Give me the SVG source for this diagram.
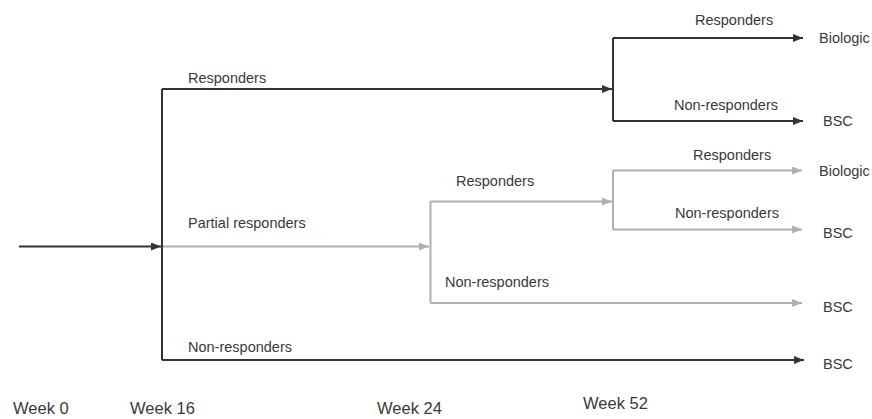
<svg xmlns="http://www.w3.org/2000/svg" width="872" height="419" viewBox="0 0 872 419">
<defs>
<marker id="ab" viewBox="0 0 10 8" refX="10" refY="4" markerWidth="10" markerHeight="8" markerUnits="userSpaceOnUse" orient="auto"><path d="M0,0 L10,4 L0,8 z" fill="#333"/></marker>
<marker id="ag" viewBox="0 0 10 8" refX="10" refY="4" markerWidth="10" markerHeight="8" markerUnits="userSpaceOnUse" orient="auto"><path d="M0,0 L10,4 L0,8 z" fill="#b0b0b0"/></marker>
</defs>
<style>
.b{fill:none;stroke:#333;stroke-width:2}
.g{fill:none;stroke:#b0b0b0;stroke-width:2}
text{font-family:"Liberation Sans",Arial,sans-serif;font-size:14.5px;fill:#3a3a3a}
.w{font-size:16.5px}
</style>
<rect width="872" height="419" fill="#fff"/>
<g id="connectors">
<path class="b" d="M19,246.5 H161" marker-end="url(#ab)"/>
<path class="b" d="M162,89 V360"/>
<path class="b" d="M162,89 H612" marker-end="url(#ab)"/>
<path class="b" d="M162,360 H804" marker-end="url(#ab)"/>
<path class="b" d="M613,38 V121"/>
<path class="b" d="M613,38 H803" marker-end="url(#ab)"/>
<path class="b" d="M613,121 H803" marker-end="url(#ab)"/>
<path class="g" d="M163,246.5 H429" marker-end="url(#ag)"/>
<path class="g" d="M430.5,201 V303"/>
<path class="g" d="M430.5,201.5 H612" marker-end="url(#ag)"/>
<path class="g" d="M430.5,303 H802" marker-end="url(#ag)"/>
<path class="g" d="M613,170.5 V229.5"/>
<path class="g" d="M613,170.5 H802" marker-end="url(#ag)"/>
<path class="g" d="M613,229.5 H802" marker-end="url(#ag)"/>
</g>
<g id="labels">
<text x="188" y="83">Responders</text>
<text x="188" y="228">Partial responders</text>
<text x="188" y="352">Non-responders</text>
<text x="695" y="25">Responders</text>
<text x="674" y="110">Non-responders</text>
<text x="456" y="186">Responders</text>
<text x="445" y="287">Non-responders</text>
<text x="693" y="160">Responders</text>
<text x="675" y="218">Non-responders</text>
</g>
<g id="node-biologic-1"><text x="819" y="43">Biologic</text></g>
<g id="node-bsc-1"><text x="823" y="126">BSC</text></g>
<g id="node-biologic-2"><text x="819" y="176">Biologic</text></g>
<g id="node-bsc-2"><text x="823" y="238">BSC</text></g>
<g id="node-bsc-3"><text x="823" y="312">BSC</text></g>
<g id="node-bsc-4"><text x="823" y="369">BSC</text></g>
<g id="timeline">
<text class="w" x="13" y="414">Week 0</text>
<text class="w" x="130" y="414">Week 16</text>
<text class="w" x="377" y="414">Week 24</text>
<text class="w" x="583" y="409">Week 52</text>
</g>
</svg>
